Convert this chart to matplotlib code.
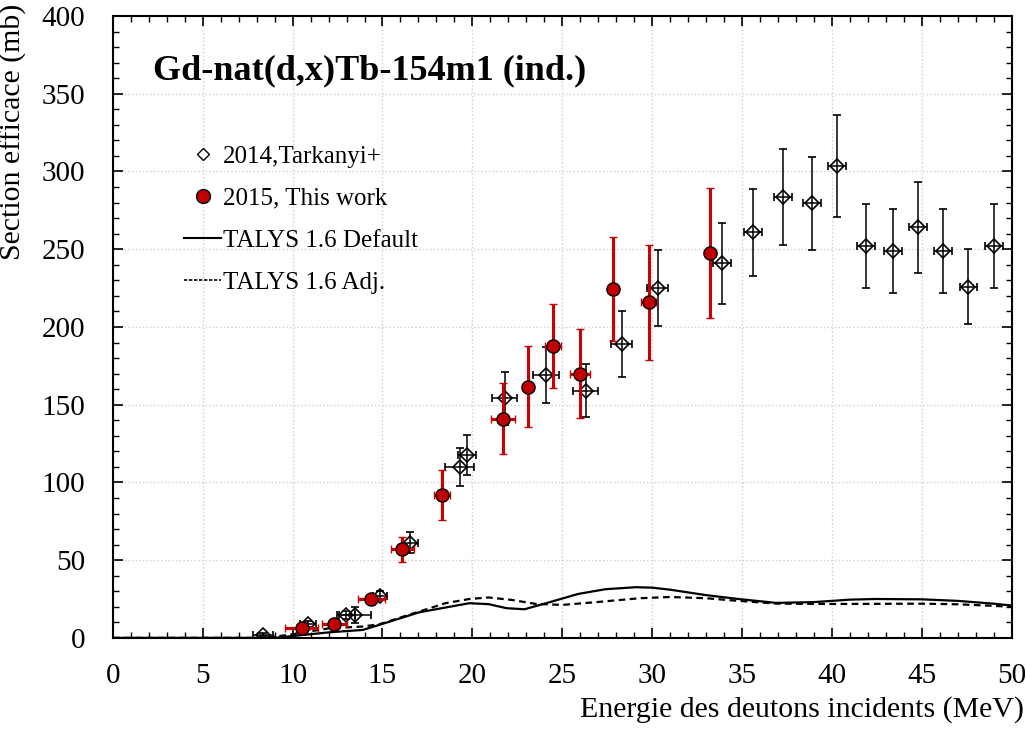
import numpy as np
import matplotlib
matplotlib.use("Agg")
import matplotlib.pyplot as plt
from matplotlib.lines import Line2D
from matplotlib.ticker import MultipleLocator

plt.rcParams['font.family'] = ['Liberation Serif', 'DejaVu Serif']

# 2014, Tarkanyi+ (diamonds)
tk_e = [8.35, 10.85, 12.98, 13.48, 14.87, 16.55, 19.3, 19.7, 21.8, 24.1, 26.3, 28.3, 30.3,
        33.9, 35.6, 37.3, 38.9, 40.3, 41.9, 43.4, 44.8, 46.2, 47.6, 49.0]
tk_s = [1.9, 8.8, 14.8, 14.8, 27.2, 61.3, 110, 117.7, 154, 169, 159, 189, 225,
        241, 261, 283.6, 279.6, 303.5, 252, 249, 264, 249, 226, 252]
tk_ds = [1.0, 2.0, 2.5, 5.0, 3.0, 6.9, 12, 13, 17, 18, 17, 21, 24.5,
         26, 28, 31, 30, 33, 27, 27, 29, 27, 24, 27]
tk_de = [0.55, 0.45, 0.5, 0.88, 0.4, 0.4, 0.8, 0.5, 0.7, 0.7, 0.7, 0.6, 0.6,
         0.5, 0.5, 0.5, 0.5, 0.5, 0.5, 0.5, 0.5, 0.5, 0.5, 0.5]

# 2015, This work (red circles)
tw_e = [10.5, 12.33, 14.37, 16.1, 18.3, 21.7, 23.1, 24.5, 26.0, 27.8, 29.8, 33.2]
tw_s = [6.2, 8.8, 24.9, 57, 92, 141, 161.5, 188, 170, 224.4, 216, 247.6]
tw_ds = [1.2, 1.5, 3.0, 8.2, 16, 23, 26, 27, 28.6, 33.5, 37, 42]
tw_de = [0.92, 0.67, 0.75, 0.63, 0.45, 0.65, 0.0, 0.45, 0.55, 0.0, 0.4, 0.0]

# TALYS 1.6 Default
td_e = [0, 9.0, 10, 12.06, 13.9, 14.83, 17.06, 19.83, 20.9, 21.9, 22.9, 24.1, 25.9, 27.4,
        29.1, 30, 31, 33, 34.8, 36.9, 39, 41, 42.4, 45, 47, 49, 50]
td_s = [0, 0, 1.2, 3.6, 5.1, 8.4, 16.5, 22.3, 21.7, 19.1, 18.4, 22.3, 28.3, 31.3,
        32.6, 32.3, 31, 27.5, 25, 22.5, 23, 24.6, 25, 24.8, 23.8, 22, 20.8]

# TALYS 1.6 Adj.
ta_e = [0, 8.5, 9.8, 12.06, 13.9, 14.83, 17.06, 18.5, 19.83, 20.9, 22.2, 23.5, 25, 26.9,
        29.3, 31, 33, 34.8, 37, 40, 42.4, 45, 47, 49, 50]
ta_s = [0, 0, 2, 6.2, 7.3, 8.8, 17, 22.3, 25, 26, 24.4, 21.9, 21.2, 23,
        25.5, 26.3, 25.5, 23.8, 22, 21.8, 21.9, 22, 21.6, 20.6, 20]

fig = plt.figure(figsize=(10.26, 7.29), dpi=100)
ax = fig.add_axes([0.110, 0.125, 0.876, 0.853])

ax.plot(td_e, td_s, color='black', lw=1.6, zorder=2)
ax.plot(ta_e, ta_s, color='black', lw=1.6, ls=(0, (3, 2)), zorder=2)

ax.errorbar(tk_e, tk_s, yerr=tk_ds, xerr=tk_de, fmt='D', ms=7, mfc='none', mec='black',
            mew=1.2, ecolor='black', elinewidth=1.1, capsize=3, capthick=1.1, zorder=3)
ax.errorbar(tw_e, tw_s, yerr=tw_ds, xerr=tw_de, fmt='o', ms=9.5, mfc='#c00000', mec='black',
            mew=1, ecolor='#cc0000', elinewidth=2.2, capsize=3, capthick=2, zorder=4)

ax.set_xlim(0, 50)
ax.set_ylim(0, 400)
ax.xaxis.set_major_locator(MultipleLocator(5))
ax.xaxis.set_minor_locator(MultipleLocator(1))
ax.yaxis.set_major_locator(MultipleLocator(50))
ax.yaxis.set_minor_locator(MultipleLocator(10))
ax.tick_params(which='both', direction='in', top=True, right=True, labelsize=21)
ax.tick_params(which='major', length=7, width=1.2)
ax.tick_params(which='minor', length=4, width=1)
ax.tick_params(axis='x', which='major', pad=18)
ax.tick_params(axis='y', which='major', pad=20)
ax.grid(True, which='major', color='#d0d0d0', ls=':', lw=1)
for sp in ax.spines.values():
    sp.set_linewidth(1.5)

ax.set_xlabel('Energie des deutons incidents (MeV)', fontsize=21.5, ha='right', va='top')
ax.xaxis.set_label_coords(1.0134, -0.093)
ax.set_ylabel('Section efficace (mb)', fontsize=21.5, ha='right', va='center')
ax.yaxis.set_label_coords(-0.111, 1.02)

ax.text(0.045, 0.912, 'Gd-nat(d,x)Tb-154m1 (ind.)', transform=ax.transAxes,
        fontsize=26, fontweight='bold', va='center', ha='left')

handles = [
    Line2D([], [], ls='none', marker='D', ms=6, mfc='white', mec='black', mew=1),
    Line2D([], [], ls='none', marker='o', ms=10, mfc='#c00000', mec='black', mew=1),
    Line2D([], [], color='black', lw=1.5),
    Line2D([], [], color='black', lw=1.2, ls=(0, (2, 1))),
]
labels = ['2014,Tarkanyi+', '2015, This work', 'TALYS 1.6 Default', 'TALYS 1.6 Adj.']
ax.legend(handles, labels, loc='upper left', bbox_to_anchor=(0.065, 0.812), frameon=False,
          fontsize=18, handlelength=1.5, handletextpad=0.05, labelspacing=0.78, borderpad=0)

fig.savefig('out.png', dpi=100)
